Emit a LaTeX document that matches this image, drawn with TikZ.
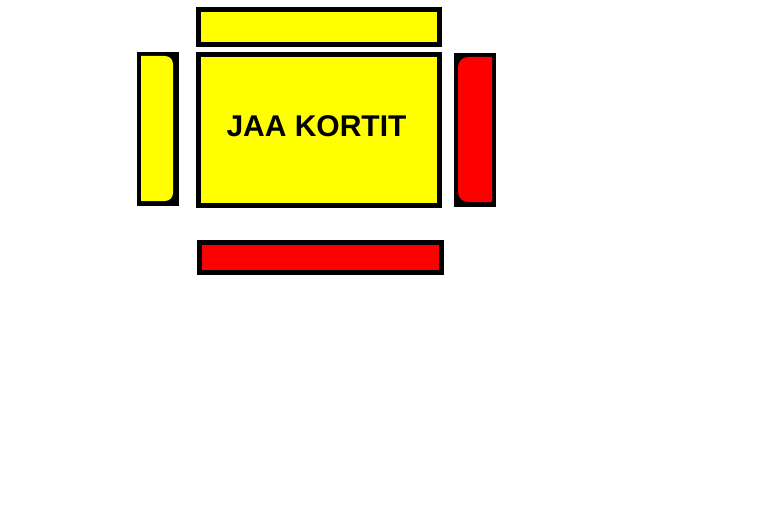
\documentclass[tikz,border=0pt]{standalone}
\usepackage{fontspec}
\setmainfont{Liberation Sans}
\usepackage{tikz}
\usepackage{xcolor}

\definecolor{keltainen}{RGB}{255,255,0}
\definecolor{punainen}{RGB}{255,0,0}

\begin{document}
\begin{tikzpicture}[x=1pt,y=-1pt,
  kortti/.style={draw=black,line width=5pt}]
\useasboundingbox (0,0) rectangle (778,519);

\draw[kortti,fill=keltainen] (198.5,9.5) rectangle (439.5,44.5);

\draw[kortti,fill=keltainen] (198.5,54.5) rectangle (439.5,205.5);

\node (otsikko) at (316.5,126) {\fontsize{30}{30}\selectfont\bfseries JAA KORTIT};

%  vasen
\fill[black] (137,52) rectangle (179,206);
\fill[keltainen] (141,56) -- (165,56) arc[start angle=-90,end angle=0,radius=8] -- (173,193) arc[start angle=0,end angle=90,radius=8] -- (141,201) -- cycle;

%  oikea
\fill[black] (454,53) rectangle (496,207);
\fill[punainen] (492,57) -- (468,57) arc[start angle=-90,end angle=-180,radius=10] -- (458,192) arc[start angle=180,end angle=90,radius=10] -- (492,202) -- cycle;

\draw[kortti,fill=punainen] (199.5,242.5) rectangle (441.5,272.5);

\end{tikzpicture}
\end{document}
